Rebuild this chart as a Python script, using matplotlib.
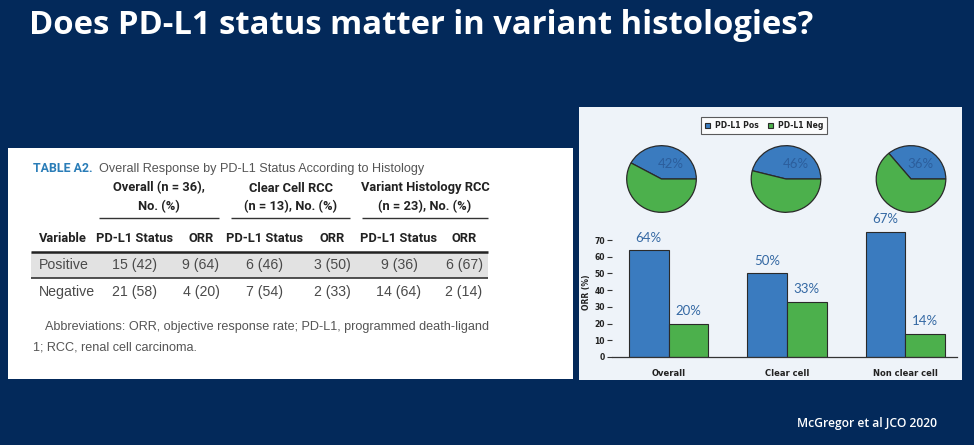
import matplotlib
matplotlib.use("Agg")
import matplotlib.pyplot as plt
from matplotlib.patches import Rectangle

# ---------------- data ----------------
title = "Does PD-L1 status matter in variant histologies?"
source = "McGregor et al JCO 2020"

table_label = "TABLE A2."
table_title = "Overall Response by PD-L1 Status According to Histology"
group_headers = [["Overall (n = 36),", "No. (%)"],
                 ["Clear Cell RCC", "(n = 13), No. (%)"],
                 ["Variant Histology RCC", "(n = 23), No. (%)"]]
col_headers = ["Variable", "PD-L1 Status", "ORR", "PD-L1 Status", "ORR", "PD-L1 Status", "ORR"]
row_positive = ["Positive", "15 (42)", "9 (64)", "6 (46)", "3 (50)", "9 (36)", "6 (67)"]
row_negative = ["Negative", "21 (58)", "4 (20)", "7 (54)", "2 (33)", "14 (64)", "2 (14)"]
abbrev = ["Abbreviations: ORR, objective response rate; PD-L1, programmed death-ligand",
          "1; RCC, renal cell carcinoma."]

series_names = ["PD-L1 Pos", "PD-L1 Neg"]
categories = ["Overall", "Clear cell", "Non clear cell"]
pie_pos_pct = [42, 46, 36]
pie_labels = ["42%", "46%", "36%"]
orr_pos = [64, 50, 75]          # bar heights as drawn
orr_neg = [20, 33, 14]
orr_pos_labels = ["64%", "50%", "67%"]
orr_neg_labels = ["20%", "33%", "14%"]
yticks = [0, 10, 20, 30, 40, 50, 60, 70]
ylabel = "ORR (%)"

# ---------------- style ----------------
W, H = 974, 445
NAVY = "#03295a"
BLUE = "#3a7bbf"
GREEN = "#4cb04c"
LBLUE_TXT = "#3468a3"
PANEL = "#eef3f9"

fig = plt.figure(figsize=(W / 100, H / 100), dpi=100)
fig.patch.set_facecolor(NAVY)
renderer = fig.canvas.get_renderer()

bg = fig.add_axes([0, 0, 1, 1])
bg.set_xlim(0, W)
bg.set_ylim(H, 0)
bg.axis("off")


def fax(x0, y0, x1, y1):
    """figure-fraction rect from pixel box (top-left origin)"""
    return [x0 / W, 1 - y1 / H, (x1 - x0) / W, (y1 - y0) / H]


def fit_size(s, width_px, **kw):
    t = bg.text(0, 0, s, fontsize=10, **kw)
    w = t.get_window_extent(renderer).width
    t.remove()
    return 10 * width_px / w


TITLE_F = ["Open Sans", "DejaVu Sans"]
HDR = ["Roboto", "DejaVu Sans"]
REG = ["Liberation Sans", "DejaVu Sans"]
TXT = "#4a4a4a"

# Title
fs = fit_size(title, 785, family=TITLE_F, fontweight="bold")
bg.text(29, 25, title, color="white", fontsize=fs, fontweight="bold",
        family=TITLE_F, va="center", ha="left")
fs = fit_size(source, 141, family=TITLE_F, fontweight="semibold")
bg.text(797, 424, source, color="white", fontsize=fs, fontweight="semibold",
        family=TITLE_F, va="center", ha="left")

# ---------------- table panel ----------------
bg.add_patch(Rectangle((8, 148), 565, 231, facecolor="white", edgecolor="none"))

fs = fit_size(table_label, 60, family=HDR, fontweight="bold")
bg.text(33, 169, table_label, color="#2a7db8", fontsize=fs, fontweight="bold",
        family=HDR, va="center", ha="left")
fs = fit_size(table_title, 326, family=REG)
bg.text(99, 169, table_title, color="#555555", fontsize=fs, family=REG,
        va="center", ha="left")

hfs = fit_size("PD-L1 Status", 77, family=HDR, fontweight="bold")
group_centers = [159, 291, 425]
group_lines = [(99, 219), (231, 350), (362, 488)]
for (l1, l2), cx, (a, b) in zip(group_headers, group_centers, group_lines):
    bg.text(cx, 188, l1, color="#222222", fontsize=hfs, fontweight="bold", family=HDR,
            ha="center", va="center")
    bg.text(cx, 207, l2, color="#222222", fontsize=hfs, fontweight="bold", family=HDR,
            ha="center", va="center")
    bg.plot([a, b], [218, 218], color="#333333", lw=1.0, solid_capstyle="butt")

col_x = [39, 135, 201, 265, 332, 399, 464]
for i, (cx, h) in enumerate(zip(col_x, col_headers)):
    bg.text(cx, 238, h, color="#222222", fontsize=hfs, fontweight="bold", family=HDR,
            ha="left" if i == 0 else "center", va="center")

bg.add_patch(Rectangle((31, 252), 457, 26, facecolor="#e2e2e2", edgecolor="none"))
bg.plot([31, 488], [252, 252], color="#222222", lw=1.8, solid_capstyle="butt")
bg.plot([31, 488], [278, 278], color="#333333", lw=1.2, solid_capstyle="butt")

rfs = fit_size("15 (42)", 45, family=REG)
for row, y in ((row_positive, 265), (row_negative, 292)):
    for i, (cx, v) in enumerate(zip(col_x, row)):
        bg.text(cx, y, v, color=TXT, fontsize=rfs, family=REG,
                ha="left" if i == 0 else "center", va="center")

afs = fit_size(abbrev[0], 443, family=REG)
bg.text(45, 327, abbrev[0], color="#555555", fontsize=afs, family=REG, ha="left", va="center")
bg.text(33, 347, abbrev[1], color="#555555", fontsize=afs, family=REG, ha="left", va="center")

# ---------------- chart panel ----------------
bg.add_patch(Rectangle((579, 107), 383, 273, facecolor=PANEL, edgecolor="none"))

pie_cx = [661.5, 786, 911]
for cx, p, lab in zip(pie_cx, pie_pos_pct, pie_labels):
    pax = fig.add_axes(fax(cx - 35.5, 145, cx + 35.5, 213))
    pax.pie([p, 100 - p], colors=[BLUE, GREEN], startangle=0, counterclock=True,
            wedgeprops=dict(edgecolor="#2a2a2a", linewidth=0.9))
    pax.set_aspect("auto")
    pax.set_xlim(-1.02, 1.02)
    pax.set_ylim(-1.02, 1.02)
    pax.axis("off")
    pax.text(0.28, 0.45, lab, color="#2c5e9c", fontsize=9.5,
             family=["Lato", "DejaVu Sans"], ha="center", va="center")

# bar axes: x 610..957 px, y0 at 357, 70 at 240
ymax = 80
px_per = (357 - 240) / 70
top = 357 - ymax * px_per
bax = fig.add_axes(fax(612, top, 957, 357))
bax.patch.set_alpha(0)
x = list(range(len(categories)))
bw = 40 / 119
b1 = bax.bar([i - bw / 2 for i in x], orr_pos, bw, color=BLUE, edgecolor="#2a2a2a",
             linewidth=0.8, label=series_names[0])
b2 = bax.bar([i + bw / 2 for i in x], orr_neg, bw, color=GREEN, edgecolor="#2a2a2a",
             linewidth=0.8, label=series_names[1])
for rects, labs in ((b1, orr_pos_labels), (b2, orr_neg_labels)):
    for r, lab in zip(rects, labs):
        bax.annotate(lab, (r.get_x() + r.get_width() / 2, r.get_height()),
                     xytext=(0, 9), textcoords="offset points", ha="center", va="center",
                     color=LBLUE_TXT, fontsize=9.5, family=["Lato", "DejaVu Sans"],
                     annotation_clip=False)
bax.set_xlim((610 - 667) / 119, (957 - 667) / 119)
bax.set_ylim(0, ymax)
bax.set_yticks(yticks)
bax.set_yticklabels([str(t) for t in yticks], fontsize=5.5, fontweight="bold", color="#222222")
bax.tick_params(axis="y", length=3.5, width=0.8, color="#333333", pad=1.5)
bax.set_xticks(x)
bax.set_xticklabels(categories, fontsize=6, fontweight="bold", color="#222222")
bax.tick_params(axis="x", length=0, pad=9)
for s in ("top", "right", "left"):
    bax.spines[s].set_visible(False)
bax.spines["bottom"].set_color("#333333")
bax.spines["bottom"].set_linewidth(0.9)
bg.text(587, 292, ylabel, rotation=90, fontsize=5.5, fontweight="bold", color="#222222",
        ha="center", va="center")

leg = fig.legend(handles=[b1, b2], labels=series_names, loc="center",
                 bbox_to_anchor=(764 / W, 1 - 125.5 / H), ncol=2, frameon=True,
                 fancybox=False, prop=dict(size=5.5, weight="bold"),
                 handlelength=0.7, handleheight=0.7, handletextpad=0.6,
                 columnspacing=1.2, borderpad=0.5, edgecolor="#333333")
leg.get_frame().set_linewidth(0.8)
leg.get_frame().set_facecolor("white")
for t in leg.get_texts():
    t.set_color("#222222")

fig.savefig("out.png", dpi=100, facecolor=NAVY)
